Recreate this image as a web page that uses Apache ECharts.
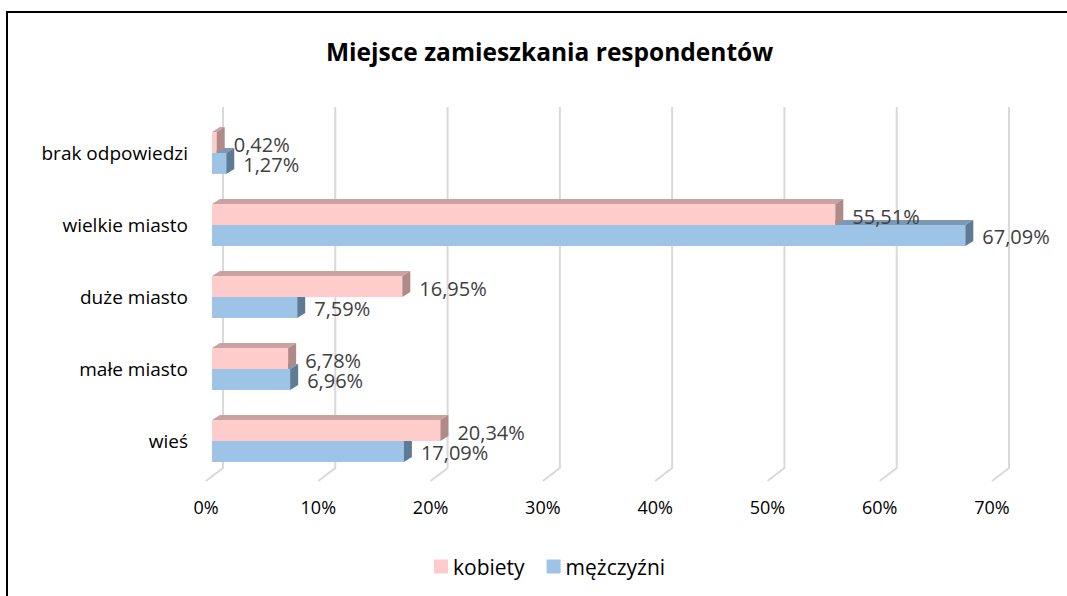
<!DOCTYPE html>
<html>
<head>
<meta charset="utf-8">
<script src="https://cdn.jsdelivr.net/npm/echarts@6/dist/echarts.min.js"></script>
<style>
  html, body { margin: 0; padding: 0; background: #fff; }
  #chart { width: 1067px; height: 596px; }
</style>
</head>
<body>
<div id="chart"></div>
<script>
  // dane (od dołu do góry osi kategorii)
  var categories = ['wieś', 'małe miasto', 'duże miasto', 'wielkie miasto', 'brak odpowiedzi'];
  var kobiety = [20.34, 6.78, 16.95, 55.51, 0.42];
  var mezczyzni = [17.09, 6.96, 7.59, 67.09, 1.27];
  var ticks = [0, 10, 20, 30, 40, 50, 60, 70];

  var FONT = '"Open Sans", sans-serif';
  var DEPTH_X = 8, DEPTH_Y = 5;

  function fmt(v) {
    return v.toFixed(2).replace('.', ',') + '%';
  }

  // słupek 3D: przód + góra + bok, etykieta po prawej
  function barRenderer(colors, upper, labelDy) {
    return function (params, api) {
      var v = api.value(0), idx = api.value(1);
      var p0 = api.coord([0, idx]);
      var p1 = api.coord([v, idx]);
      var band = api.size([0, 1])[1];
      var h = band * 0.29;
      var yTop = upper ? p0[1] - h : p0[1];
      var yBot = yTop + h;
      var x0 = p0[0], x1 = p1[0];
      return {
        type: 'group',
        children: [
          { type: 'rect', shape: { x: x0, y: yTop, width: x1 - x0, height: h }, style: { fill: colors[0] } },
          { type: 'polygon', shape: { points: [[x0, yTop], [x1, yTop], [x1 + DEPTH_X, yTop - DEPTH_Y], [x0 + DEPTH_X, yTop - DEPTH_Y]] }, style: { fill: colors[1] } },
          { type: 'polygon', shape: { points: [[x1, yTop], [x1 + DEPTH_X, yTop - DEPTH_Y], [x1 + DEPTH_X, yBot - DEPTH_Y], [x1, yBot]] }, style: { fill: colors[2] } },
          { type: 'text', style: { text: fmt(v), x: x1 + 17, y: (yTop + yBot) / 2 + labelDy, verticalAlign: 'middle', fill: '#404040', font: '20px ' + FONT } }
        ]
      };
    };
  }

  // linie siatki: tylna ściana + podłoga
  function gridRenderer(params, api) {
    var x = api.coord([api.value(0), 0])[0];
    var top = params.coordSys.y, bottom = params.coordSys.y + params.coordSys.height;
    return {
      type: 'polyline',
      shape: { points: [[x + 11, top - 10], [x + 11, bottom - 9], [x - 6, bottom + 4]] },
      style: { stroke: '#D9D9D9', lineWidth: 2, fill: null }
    };
  }

  var chart = echarts.init(document.getElementById('chart'), null, { renderer: 'svg' });

  var option = {
    animation: false,
    backgroundColor: '#fff',
    title: {
      text: 'Miejsce zamieszkania respondentów',
      left: 321,
      top: 34,
      textStyle: { fontFamily: FONT, fontSize: 24.5, fontWeight: 'bold', color: '#000' }
    },
    legend: {
      data: ['kobiety', 'mężczyźni'],
      left: 429,
      top: 551,
      icon: 'rect',
      itemWidth: 14,
      itemHeight: 14,
      itemGap: 22,
      textStyle: { fontFamily: FONT, fontSize: 21, color: '#000' }
    },
    graphic: [{
      type: 'polyline',
      shape: { points: [[7, 596], [7, 12], [1067, 12]] },
      style: { stroke: '#000', lineWidth: 2, fill: null }
    }],
    grid: [
      { left: 212, top: 117, width: 786, height: 360 },
      { left: 206, top: 117, width: 786, height: 360 }
    ],
    xAxis: [
      { gridIndex: 0, type: 'value', min: 0, max: 70, interval: 10, show: false },
      {
        gridIndex: 1, type: 'value', min: 0, max: 70, interval: 10,
        axisLine: { show: false }, axisTick: { show: false }, splitLine: { show: false },
        axisLabel: { formatter: '{value}%', margin: 21, color: '#000', fontFamily: FONT, fontSize: 18 }
      }
    ],
    yAxis: [
      {
        gridIndex: 0, type: 'category', data: categories,
        axisLine: { show: false }, axisTick: { show: false }, splitLine: { show: false },
        axisLabel: { margin: 24, padding: [10, 0, 0, 0], color: '#000', fontFamily: FONT, fontSize: 19 }
      },
      { gridIndex: 1, type: 'category', data: categories, show: false }
    ],
    series: [
      {
        name: 'siatka', type: 'custom', xAxisIndex: 0, yAxisIndex: 0, z: 1, silent: true,
        renderItem: gridRenderer,
        data: ticks.map(function (t) { return [t]; })
      },
      {
        name: 'mężczyźni', type: 'custom', xAxisIndex: 0, yAxisIndex: 0, z: 2,
        itemStyle: { color: '#9DC3E6' },
        renderItem: barRenderer(['#9DC3E6', '#7C98B3', '#5E7B96'], false, 1),
        encode: { x: 0, y: 1 },
        data: mezczyzni.map(function (v, i) { return [v, i]; })
      },
      {
        name: 'kobiety', type: 'custom', xAxisIndex: 0, yAxisIndex: 0, z: 3,
        itemStyle: { color: '#FFCCCC' },
        renderItem: barRenderer(['#FFCCCC', '#C9A2A2', '#B08A88'], true, 2),
        encode: { x: 0, y: 1 },
        data: kobiety.map(function (v, i) { return [v, i]; })
      }
    ]
  };

  chart.setOption(option);
</script>
</body>
</html>
